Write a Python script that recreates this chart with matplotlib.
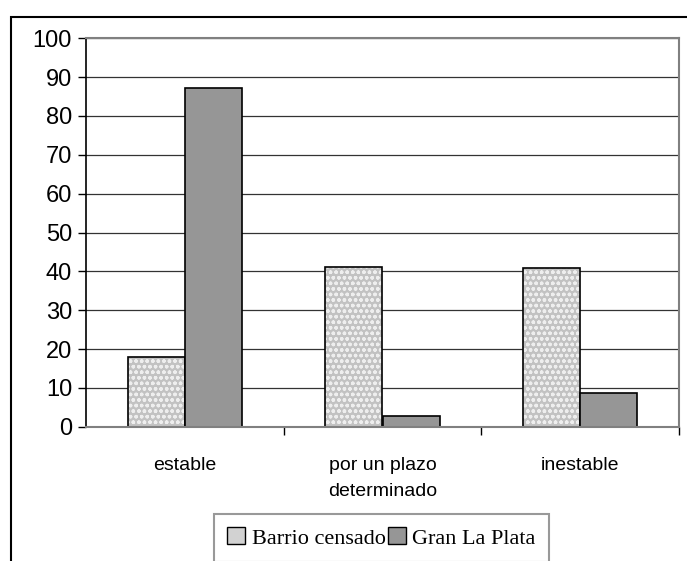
import matplotlib
matplotlib.use("Agg")
import matplotlib.pyplot as plt
import numpy as np
from matplotlib.patches import Rectangle, Patch

categorias = ["estable", "por un plazo\ndeterminado", "inestable"]
barrio = [17.9, 41.0, 40.9]
gran_lp = [87.2, 2.8, 8.6]
series = ["Barrio censado", "Gran La Plata"]
yticks = [0, 10, 20, 30, 40, 50, 60, 70, 80, 90, 100]

fig = plt.figure(figsize=(6.87, 5.61), dpi=100)
fig.patch.set_facecolor("white")
ax = fig.add_axes([86/687, 1-426.7/561, (679-86)/687, (426.7-38.3)/561])

# marco exterior del grafico
fig.add_artist(Rectangle((11/687, -0.2), 1.2, 1-17/561+0.2, transform=fig.transFigure,
                         fill=False, edgecolor="black", linewidth=1.5))

x = np.arange(len(categorias))
w = 0.29
ax.set_axisbelow(True)
ax.yaxis.grid(True, color="#333333", linewidth=0.9)

# barras con textura punteada
ax.bar(x - w/2, barrio, w, color="#c2c2c2", edgecolor="#eeeeee", hatch="ooo", linewidth=0)
ax.bar(x - w/2, barrio, w, fill=False, edgecolor="black", linewidth=1.2)
ax.bar(x + w/2, gran_lp, w, color="#969696", edgecolor="black", linewidth=1.2)

ax.set_xlim(-0.5, 2.5)
ax.set_ylim(0, 100)
ax.set_yticks(yticks)
ax.set_yticklabels([str(v) for v in yticks], fontsize=17, family="Liberation Sans")
ax.tick_params(axis="y", length=6, width=1, pad=4)

ax.set_xticks(x)
ax.set_xticklabels(categorias, fontsize=14, family="Liberation Sans", linespacing=1.65)
ax.set_xticks([0.5, 1.5, 2.5], minor=True)
ax.tick_params(axis="x", which="major", length=0, pad=22)
ax.tick_params(axis="x", which="minor", length=6, width=1, direction="out")

for s in ["top", "right", "bottom"]:
    ax.spines[s].set_color("#808080")
    ax.spines[s].set_linewidth(1.5)
ax.spines["left"].set_color("black")
ax.spines["left"].set_linewidth(1.2)

handles = [Patch(facecolor="#d2d2d2", edgecolor="black", linewidth=1.0),
           Patch(facecolor="#969696", edgecolor="black", linewidth=1.0)]
leg = fig.legend(handles, series, loc="upper left", bbox_to_anchor=(214/687, 1-514/561),
                 ncol=2, frameon=True, fancybox=False, prop={"family": "Liberation Serif", "size": 16},
                 handlelength=0.8, handleheight=0.8, handletextpad=0.3, columnspacing=0.1,
                 borderpad=0.6, borderaxespad=0)
leg.get_frame().set_edgecolor("#808080")
leg.get_frame().set_linewidth(1.5)

fig.savefig("out.png", dpi=100)
